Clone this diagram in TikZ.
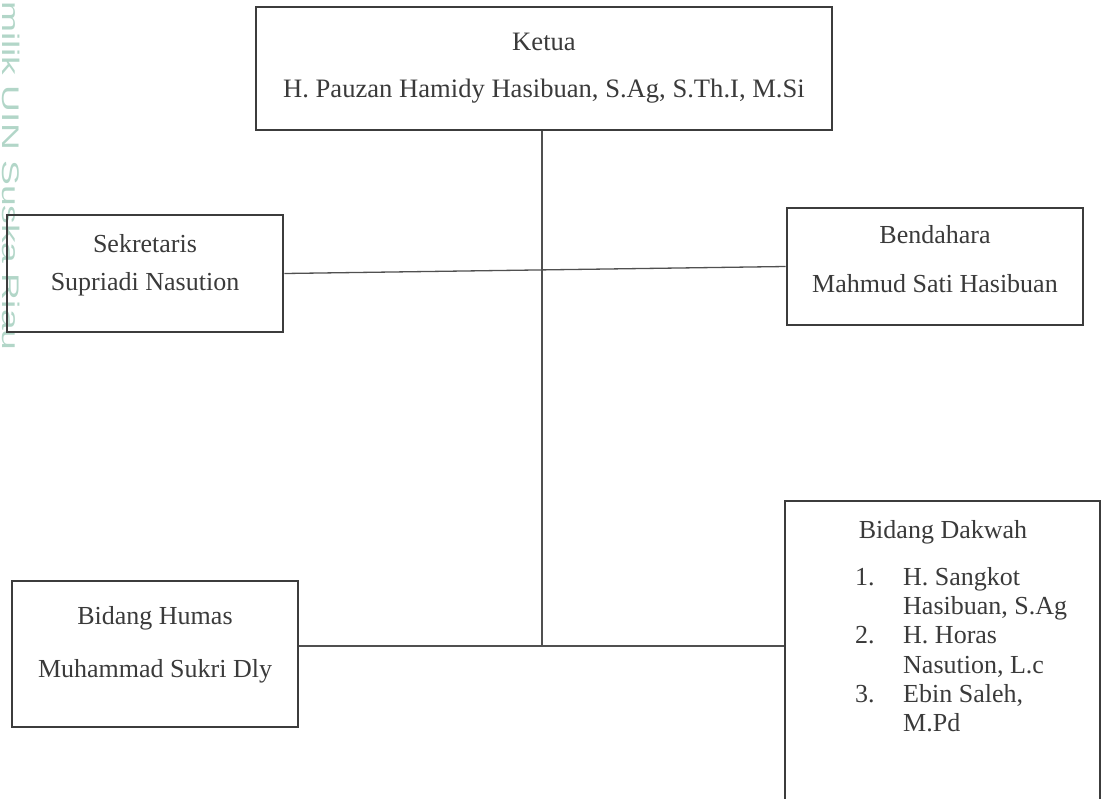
\documentclass[tikz,border=0pt]{standalone}
\usepackage{fontspec}
\setmainfont{Liberation Serif}
\newfontfamily\wmfont{Liberation Sans}
\usetikzlibrary{positioning}
\definecolor{boxC}{HTML}{3C3C3C}
\definecolor{lineC}{HTML}{505050}
\definecolor{txtC}{HTML}{3A3A3A}
\definecolor{wmC}{HTML}{B2D6C8}

\tikzstyle{bS}=[rectangle,draw=boxC,line width=2.6pt,inner sep=0pt,text=txtC,align=center,font=\fontsize{26}{30}\selectfont]
\tikzstyle{eS}=[draw=lineC,line width=1.3pt]
\tikzstyle{tS}=[inner sep=0pt,text=txtC,font=\fontsize{26}{29.3}\selectfont]

\begin{document}
\begin{tikzpicture}[x=1pt,y=-1pt]
    \useasboundingbox (0,0) rectangle (1102,798);
    % watermark
    \draw (11,1) node[rotate=-90,anchor=west,inner sep=0pt,text=wmC,font=\wmfont\fontsize{24}{24}\selectfont] (wm) {\scalebox{1.55}[1]{milik UIN Suska Riau}};
    \draw (544,68.5) node[bS,minimum width=576pt,minimum height=123pt,text height=60pt,text depth=3pt,font=\fontsize{26.6}{30}\selectfont] (ketua) {Ketua\\[17pt]H. Pauzan Hamidy Hasibuan, S.Ag, S.Th.I, M.Si};
    \draw (145,273.5) node[bS,minimum width=276pt,minimum height=117pt,text height=40pt,text depth=7pt] (sekr) {Sekretaris\\[8pt]Supriadi Nasution};
    \draw (935,266.5) node[bS,minimum width=296pt,minimum height=117pt,text height=55pt,text depth=4pt] (bend) {Bendahara\\[19pt]Mahmud Sati Hasibuan};
    \draw (155,654) node[bS,minimum width=286pt,minimum height=146pt,text height=50pt,text depth=4pt] (humas) {Bidang Humas\\[23pt]Muhammad Sukri Dly};
    \draw (942.5,656.5) node[bS,minimum width=315pt,minimum height=311pt] (dakwah) {};
    \draw (943,532) node[tS] (dakwahT) {Bidang Dakwah};
    \draw (855,567) node[tS,anchor=north west,align=left] (dakwahL) {\makebox[48pt][l]{1.}H. Sangkot\\\hspace*{48pt}Hasibuan, S.Ag\\\makebox[48pt][l]{2.}H. Horas\\\hspace*{48pt}Nasution, L.c\\\makebox[48pt][l]{3.}Ebin Saleh,\\\hspace*{48pt}M.Pd};
    \coordinate (j) at (542,646);
    \path
        (sekr.east) edge[eS] (bend.west)
        (ketua.south -| j) edge[eS] (j)
        (humas.east |- j) edge[eS] (dakwah.west |- j)
    ;
    \end{tikzpicture}
\end{document}
